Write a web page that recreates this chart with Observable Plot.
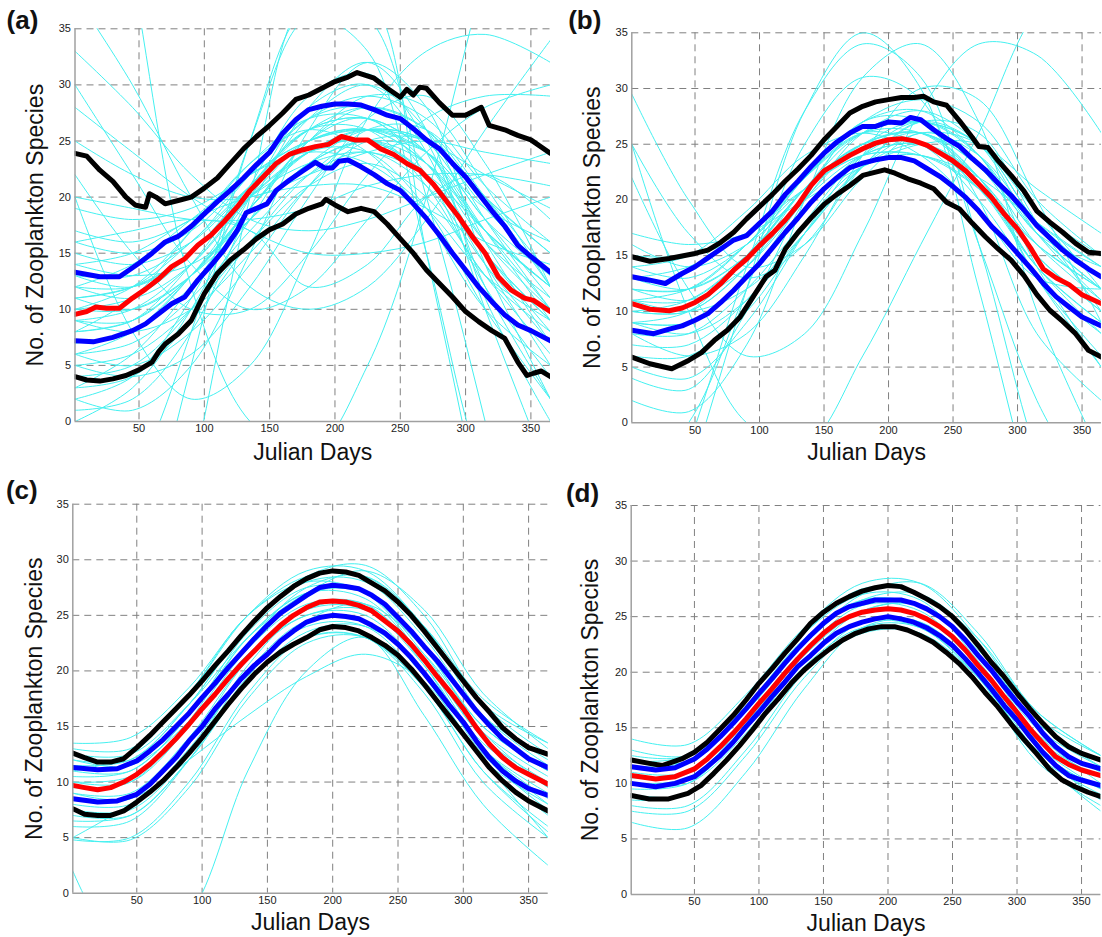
<!DOCTYPE html>
<html><head><meta charset="utf-8">
<script src="https://cdn.jsdelivr.net/npm/d3@7"></script>
<script src="https://cdn.jsdelivr.net/npm/@observablehq/plot@0.6"></script>
<style>
body{margin:0;background:#fff;}
#wrap{position:relative;width:1102px;height:937px;overflow:hidden;background:#fff;}
#wrap > div{position:absolute;}
</style></head><body><div id="wrap"></div>
<script>
const xTicks = [50,100,150,200,250,300,350];
const yTicks = [0,5,10,15,20,25,30,35];
const cyanDays = [1,45,90,135,180,225,270,315,365];
const xLabel = "Julian Days";
const yLabel = "No. of Zooplankton Species";

// ---- Panel (a) ----
const aCyan = [
 [9,10,14,20,24,25,22,15,9],[11,12,16,21,25,26,23,16,11],[7,8,12,18,23,25,23,17,10],
 [13,13,16,22,27,28,25,18,13],[6,7,11,17,22,24,21,14,7],[10,11,15,21,26,27,24,16,10],
 [8,9,14,21,26,26,21,13,8],[12,12,15,20,24,26,25,19,13],[5,6,10,16,21,23,20,13,6],
 [15,14,16,21,26,28,26,20,15],[9,9,13,19,25,28,26,18,10],[4,5,10,18,25,27,22,12,4],
 [16,15,17,22,27,29,27,21,16],[3,4,9,16,22,25,22,14,5],[11,10,13,19,25,29,28,21,12],
 [7,8,13,20,27,30,26,16,7],[14,13,14,18,23,26,25,20,15],[10,12,17,23,27,27,23,15,9],
 [19,18,19,22,25,26,25,22,19],[20,19,18,18,19,21,22,22,21],[2,4,11,21,29,31,25,12,2],
 [1,2,8,19,28,32,26,11,0],[33,28,22,18,17,18,20,22,24],[28,24,20,17,15,15,16,18,20],
 [16,17,18,17,12,14,20,22,18],[-40,-25,-5,20,38,38,15,-10,-40],[-30,-15,5,25,37,36,20,0,-25],
 [70,40,12,0,-3,5,20,40,60],[20,8,2,5,15,27,33,34.5,32],[22,15,10,10,15,22,27,29,29],
 [30,22,14,10,12,18,24,28,30],[38,30,20,12,10,12,18,26,34],[2,1,5,15,26,32,28,14,2],
 [0,3,10,20,28,30,24,10,-5],[6,5,8,14,21,26,26,20,12],[12,14,18,22,24,23,19,13,9],
 [8,11,17,23,26,24,18,10,5],[5,4,6,12,20,27,29,23,12],[17,16,18,22,25,26,24,19,16],
 [14,15,18,20,21,21,19,16,14],[9,8,10,15,21,25,25,20,13],[3,6,12,19,24,24,19,10,2],
 [-10,-5,8,25,36,33,15,-5,-15],[25,22,20,20,22,24,25,24,23],
 [8,9,13,19,24,26,24,17,9],[12,11,14,20,25,26,23,17,12],[10,10,13,18,23,25,24,18,11],
 [6,8,13,19,24,25,22,15,8],[13,12,15,21,26,27,24,17,12],[11,12,15,20,23,24,22,17,12]
];
const aBlackHi = [[1,23.9],[10,23.65],[20,22.4],[30,21.4],[40,20.0],[47,19.3],[55,19.1],[58,20.3],[63,20.0],[70,19.4],[80,19.7],[90,20.0],[100,20.8],[110,21.7],[120,23.0],[130,24.3],[140,25.4],[150,26.4],[160,27.5],[170,28.7],[180,29.1],[190,29.7],[200,30.3],[210,30.7],[217,31.1],[230,30.6],[240,29.7],[250,28.9],[255,29.6],[260,29.1],[265,29.8],[270,29.7],[280,28.4],[290,27.3],[300,27.3],[312,28.0],[318,26.4],[330,26.0],[340,25.5],[350,25.1],[365,23.9]];
const aBlueHi = [[1,13.3],[20,12.9],[35,12.9],[50,14.1],[60,15.0],[70,16.0],[80,16.5],[90,17.4],[100,18.5],[110,19.6],[120,20.6],[130,21.7],[140,22.9],[150,24.0],[160,25.7],[170,26.9],[180,27.8],[190,28.1],[200,28.3],[210,28.3],[220,28.2],[230,27.8],[240,27.3],[250,27.0],[260,26.1],[270,25.1],[280,24.3],[290,23.0],[300,21.8],[310,20.3],[320,18.8],[330,17.4],[340,15.7],[350,14.7],[365,13.3]];
const aRed = [[1,9.55],[10,9.8],[17,10.2],[25,10.1],[35,10.1],[45,11.0],[55,11.8],[65,12.7],[75,13.8],[85,14.5],[95,15.7],[105,16.6],[115,17.8],[125,19.1],[135,20.6],[145,21.8],[155,23.0],[165,23.8],[175,24.2],[185,24.5],[195,24.7],[205,25.4],[215,25.1],[225,25.1],[235,24.3],[245,23.8],[255,23.0],[265,22.4],[275,21.2],[285,19.7],[295,18.2],[305,16.5],[315,15.0],[325,12.9],[335,11.7],[345,11.0],[352,10.8],[365,9.8]];
const aBlueLo = [[1,7.2],[15,7.1],[30,7.5],[45,8.1],[55,8.7],[65,9.6],[75,10.5],[85,11.1],[95,12.6],[105,13.9],[115,15.3],[125,17.0],[132,18.6],[148,19.4],[155,20.6],[165,21.5],[175,22.3],[185,23.1],[192,22.6],[198,22.6],[203,23.2],[210,23.3],[220,22.7],[230,22.0],[240,21.2],[250,20.6],[260,19.4],[270,18.1],[280,16.6],[290,15.0],[300,13.5],[310,12.0],[320,10.7],[330,9.5],[340,8.6],[350,8.1],[365,7.2]];
const aBlackLo = [[1,4.0],[10,3.7],[20,3.6],[30,3.8],[40,4.1],[50,4.6],[60,5.3],[65,6.2],[70,6.9],[80,7.8],[90,9.0],[100,11.4],[110,13.2],[120,14.4],[130,15.3],[140,16.3],[150,17.1],[160,17.6],[170,18.5],[180,19.0],[190,19.4],[193,19.8],[200,19.3],[210,18.7],[220,19.0],[230,18.7],[240,17.6],[250,16.3],[260,15.0],[270,13.5],[280,12.3],[290,11.1],[300,9.8],[310,8.9],[320,8.1],[330,7.4],[340,5.3],[347,4.1],[352,4.3],[358,4.5],[365,4.0]];

// ---- Panel (b) ----
const bCyan = [
 [10,10,14,20,24,25,21,15,10],[12,12,16,22,26,26,22,16,12],[8,8,12,18,23,24,21,14,8],
 [14,13,16,22,27,28,24,17,14],[9,9,13,20,25,26,22,14,9],[11,11,15,21,25,26,23,17,12],
 [7,7,11,18,24,26,22,13,6],[13,12,15,21,26,27,25,18,13],[10,11,15,21,25,25,21,14,9],
 [15,15,17,22,26,27,25,19,15],[6,6,10,17,23,25,22,13,5],[12,11,14,20,26,28,25,17,11],
 [9,10,15,22,26,25,20,13,8],[11,12,16,21,24,24,21,16,12],[5,4,9,17,24,27,24,14,5],
 [16,14,16,21,27,29,27,20,15],[29.5,20,14,16,22,26,24,18,14],[25,17,13,16,23,27,25,18,13],
 [2,1,7,20,31,34,27,10,-3],[22,12,6,8,17,28,34,33,26],[-20,-5,12,28,35,30,12,-8,-25],
 [-15,-2,14,28,34,31,16,-3,-18],[25,10,0,-2,6,16,26,37,42],
 [8,6,8,15,24,30,29,20,9],[13,14,17,21,24,24,22,18,14],[17,16,17,20,23,25,25,21,17],
 [4,3,10,20,27,27,20,8,2],[9,8,11,17,23,27,26,18,10],[11,10,12,17,23,26,25,19,12],
 [-5,0,12,25,31,29,16,2,-8],[14,15,19,24,26,24,19,13,12],
 [10,10,14,21,25,26,23,16,11],[12,12,15,21,25,27,24,17,12],[9,9,13,19,24,25,22,15,10]
];
const bBlackHi = [[1,14.9],[15,14.5],[30,14.75],[50,15.2],[60,15.5],[70,16.2],[80,17.1],[90,18.3],[100,19.4],[110,20.5],[120,21.7],[130,22.8],[140,24.0],[150,25.4],[160,26.6],[170,27.8],[180,28.4],[190,28.8],[200,29.0],[210,29.2],[220,29.2],[227,29.3],[235,28.8],[245,28.5],[255,27.1],[265,25.6],[270,24.8],[277,24.7],[285,23.5],[295,22.2],[305,20.8],[315,19.0],[325,18.0],[335,17.1],[345,16.1],[355,15.3],[365,15.2]];
const bBlueHi = [[1,13.1],[15,12.8],[27,12.5],[40,13.4],[50,14.0],[60,14.8],[70,15.6],[80,16.4],[90,16.8],[100,17.9],[110,19.0],[120,20.5],[130,21.7],[140,23.0],[150,24.2],[160,25.2],[170,26.0],[180,26.6],[190,26.6],[200,27.0],[210,26.9],[217,27.4],[225,27.2],[235,26.3],[245,25.5],[255,24.8],[265,23.7],[275,22.7],[285,21.5],[295,20.4],[305,19.1],[315,17.7],[325,16.6],[335,15.5],[345,14.6],[355,13.8],[365,13.1]];
const bRed = [[1,10.7],[15,10.2],[30,10.05],[40,10.3],[50,10.8],[60,11.5],[70,12.5],[80,13.7],[90,14.7],[100,15.9],[110,17.0],[120,18.2],[130,19.6],[140,21.3],[150,22.6],[160,23.3],[170,24.0],[180,24.6],[190,25.1],[200,25.4],[210,25.5],[220,25.3],[230,24.9],[240,24.2],[250,23.5],[260,22.6],[270,21.4],[280,20.2],[290,18.7],[300,17.4],[310,15.7],[320,13.8],[330,13.0],[340,12.4],[350,11.5],[365,10.7]];
const bBlueLo = [[1,8.3],[18,8.0],[30,8.4],[40,8.7],[50,9.2],[60,9.8],[70,10.8],[80,11.9],[90,13.1],[100,14.3],[110,15.7],[120,17.1],[130,18.4],[140,19.8],[150,21.0],[160,22.0],[170,22.9],[180,23.3],[190,23.6],[200,23.8],[210,23.8],[220,23.5],[230,22.8],[240,22.1],[250,21.2],[260,20.2],[270,19.0],[280,17.6],[290,16.5],[300,15.2],[310,13.9],[320,12.5],[330,11.3],[340,10.4],[350,9.5],[365,8.7]];
const bBlackLo = [[1,5.9],[15,5.3],[32,4.85],[45,5.6],[55,6.3],[65,7.4],[75,8.3],[85,9.5],[95,11.3],[105,13.1],[112,13.7],[120,15.6],[130,17.1],[140,18.4],[150,19.6],[160,20.5],[170,21.3],[180,22.2],[190,22.5],[197,22.7],[205,22.4],[215,21.9],[225,21.5],[235,21.0],[245,19.8],[255,19.2],[265,17.9],[275,16.7],[285,15.6],[295,14.6],[305,13.2],[315,11.5],[325,10.1],[335,9.1],[345,8.0],[355,6.5],[365,5.9]];

// ---- Panel (c) ----
const cCyan = [
 [10,10,15,22,26,26,21,14,10],[11,11,16,23,27,27,22,15,11],[9,9,14,21,25,25,20,13,9],
 [12,12,17,24,28,28,23,16,12],[8,8,13,20,24,24,19,12,8],[13,13,18,25,29,29,24,17,13.5],
 [7,7,12,19,23.5,24,20,13,8],[10.5,11,16,23.5,27.5,27,21.5,14.5,10.5],[9.5,10,15.5,23,27,26.5,21,14,9.5],
 [11.5,12,17,24,28.5,29.5,25,17,12.5],[12.5,12.5,17,23,27,29,25.5,18,13],[6,6.5,12,20,24.5,24.5,19.5,12,7],
 [4.8,5,10,18,23,23,18,10,5],[5,4.8,9.5,17.5,22.5,23,18.5,11,6],[13.5,14,18.5,25,28.5,28.5,24,17.5,13.5],
 [8.5,8.5,13.5,21,25.5,25.5,20.5,13,8.5],[2,-6,-2,11,20,23,16,8,2.5],[5,8,12,16,19.5,21.5,19,12,5],
 [10,10.5,15,21.5,25,25.5,21.5,15,11],[7.5,7.5,12.5,20.5,25.5,26,20.5,12.5,7.5],[11,12.5,18,25,28,27,21,13.5,10],
 [9,8.5,12.5,19.5,24.5,26,22,14.5,9.5],[6.5,7,12,19,23,23,18.5,11,5.5],[12,11.5,15.5,22.5,27.5,28.5,24,16,11.5]
];
const cBlackHi = [[1,12.6],[10,12.2],[20,11.8],[30,11.8],[40,12.1],[50,13.1],[60,14.2],[70,15.4],[80,16.6],[90,17.8],[100,19.1],[110,20.5],[120,21.8],[130,23.2],[140,24.5],[150,25.7],[160,26.7],[170,27.6],[180,28.3],[190,28.8],[200,29.0],[210,28.9],[220,28.6],[230,27.9],[240,27.2],[250,26.2],[260,25.0],[270,23.6],[280,22.1],[290,20.6],[300,19.1],[310,17.6],[320,16.3],[330,14.9],[340,13.9],[350,13.1],[365,12.5]];
const cBlueHi = [[1,11.3],[20,11.1],[35,11.2],[50,11.9],[60,12.8],[70,13.8],[80,15.0],[90,16.2],[100,17.6],[110,18.9],[120,20.3],[130,21.6],[140,22.9],[150,24.1],[160,25.2],[170,26.0],[180,26.8],[190,27.5],[200,27.7],[210,27.6],[220,27.4],[230,26.8],[240,26.0],[250,24.8],[260,23.6],[270,22.2],[280,20.9],[290,19.4],[300,17.9],[310,16.4],[320,15.1],[330,13.9],[340,13.0],[350,12.1],[365,11.3]];
const cRed = [[1,9.7],[10,9.5],[20,9.3],[30,9.5],[40,10.0],[50,10.7],[60,11.6],[70,12.7],[80,13.9],[90,15.2],[100,16.6],[110,17.9],[120,19.3],[130,20.6],[140,21.8],[150,23.0],[160,24.1],[170,25.0],[180,25.7],[190,26.2],[200,26.3],[210,26.2],[220,25.9],[230,25.4],[240,24.5],[250,23.6],[260,22.4],[270,21.0],[280,19.5],[290,18.1],[300,16.6],[310,14.9],[320,13.4],[330,12.2],[340,11.3],[350,10.7],[365,9.8]];
const cBlueLo = [[1,8.5],[20,8.2],[35,8.3],[50,8.9],[60,9.8],[70,11.0],[80,12.2],[90,13.7],[100,15.0],[110,16.6],[120,17.9],[130,19.3],[140,20.5],[150,21.5],[160,22.7],[170,23.6],[180,24.4],[190,24.8],[200,25.0],[210,24.9],[220,24.7],[230,24.1],[240,23.4],[250,22.4],[260,21.2],[270,19.8],[280,18.3],[290,16.8],[300,15.4],[310,13.7],[320,12.2],[330,11.0],[340,10.1],[350,9.4],[365,8.8]];
const cBlackLo = [[1,7.6],[10,7.1],[20,7.0],[30,7.0],[40,7.4],[50,8.2],[60,9.1],[70,10.1],[80,11.3],[90,12.6],[100,14.0],[110,15.5],[120,17.0],[130,18.4],[140,19.7],[150,20.8],[160,21.7],[170,22.4],[180,23.0],[190,23.7],[200,24.0],[210,23.9],[220,23.6],[230,23.0],[240,22.3],[250,21.4],[260,20.2],[270,18.8],[280,17.3],[290,15.8],[300,14.3],[310,12.8],[320,11.3],[330,10.1],[340,9.1],[350,8.3],[365,7.4]];

// ---- Panel (d) ----
const dCyan = [
 [10.5,11,16,22,25.5,25,20.5,14,10.5],[11.5,12,17,23,26.5,26,21.5,15,11.5],[9.5,10,15,21,24.5,24,19.5,13,9.5],
 [12.5,12.5,17.5,23.5,27.5,27,22.5,15.5,12],[8.5,9,14,20.5,24,23.5,19,12.5,9],[14,13.5,18,24,28,28,23,16,12.5],
 [6.5,6,11,18.5,24,24.5,20,12.5,7.5],[8,8,13,20,24.5,24.5,20,13,8.5],[12,12.5,17.5,23.5,27,26.5,21,14.5,11],
 [10,10,14.5,21,25.5,26,21.5,14.5,10],[11,11,15.5,21.5,25.5,26,22,15.5,11.5],[13,12.5,16.5,22.5,27,28,23.5,16.5,12.5],
 [9,9,14,20,23.5,23.5,19.5,13,9.5],[7.5,7.5,12.5,19.5,24,24,19.5,12,8],[12,12,16.5,22.5,26.5,27,23,16.5,12.5],
 [10,10.5,15.5,22,26,25.5,20.5,13.5,9.5]
];
const dBlackHi = [[1,12.1],[15,11.8],[25,11.6],[40,12.2],[50,12.8],[60,13.7],[70,14.9],[80,16.1],[90,17.5],[100,19.0],[110,20.3],[120,21.7],[130,23.0],[140,24.4],[150,25.4],[160,26.2],[170,26.8],[180,27.3],[190,27.6],[200,27.8],[210,27.7],[220,27.2],[230,26.6],[240,25.9],[250,25.0],[260,23.8],[270,22.4],[280,20.9],[290,19.6],[300,18.1],[310,16.7],[320,15.4],[330,14.2],[340,13.3],[350,12.7],[365,12.1]];
const dBlueHi = [[1,11.5],[20,11.2],[35,11.4],[50,12.2],[60,13.1],[70,14.2],[80,15.4],[90,16.7],[100,18.1],[110,19.4],[120,20.8],[130,22.1],[140,23.3],[150,24.4],[160,25.3],[170,25.9],[180,26.2],[190,26.5],[200,26.5],[210,26.5],[220,26.2],[230,25.7],[240,25.0],[250,24.1],[260,22.9],[270,21.5],[280,20.2],[290,18.7],[300,17.3],[310,16.0],[320,14.5],[330,13.3],[340,12.4],[350,11.8],[365,11.3]];
const dRed = [[1,10.7],[20,10.4],[35,10.6],[50,11.3],[60,12.2],[70,13.3],[80,14.5],[90,15.8],[100,17.2],[110,18.5],[120,19.9],[130,21.2],[140,22.4],[150,23.5],[160,24.4],[170,25.0],[180,25.4],[190,25.6],[200,25.7],[210,25.6],[220,25.3],[230,24.8],[240,24.1],[250,23.2],[260,22.0],[270,20.6],[280,19.3],[290,17.8],[300,16.4],[310,14.9],[320,13.6],[330,12.4],[340,11.7],[350,11.2],[365,10.7]];
const dBlueLo = [[1,10.0],[20,9.7],[35,10.0],[50,10.6],[60,11.5],[70,12.5],[80,13.7],[90,15.1],[100,16.4],[110,17.8],[120,19.1],[130,20.5],[140,21.5],[150,22.6],[160,23.5],[170,24.1],[180,24.5],[190,24.8],[200,25.0],[210,24.8],[220,24.5],[230,24.0],[240,23.3],[250,22.4],[260,21.2],[270,19.9],[280,18.5],[290,17.0],[300,15.7],[310,14.2],[320,12.8],[330,11.6],[340,10.7],[350,10.3],[365,9.8]];
const dBlackLo = [[1,8.9],[15,8.6],[30,8.6],[45,9.1],[55,9.8],[65,10.9],[75,12.1],[85,13.4],[95,14.8],[105,16.3],[115,17.6],[125,19.0],[135,20.2],[145,21.2],[155,22.1],[165,22.9],[175,23.5],[185,23.9],[195,24.1],[205,24.1],[215,23.8],[225,23.3],[235,22.7],[245,21.8],[255,20.8],[265,19.6],[275,18.2],[285,16.9],[295,15.4],[305,14.0],[315,12.7],[325,11.3],[335,10.3],[345,9.7],[355,9.2],[365,8.8]];

const panels = [
 {tag:"(a)", left:0, top:0, w:551, h:468, ml:74.5, mr:1, mt:28.3, mb:47, yl:-39.5, xl:31, tdx:-52.5, tdy:-8.5,
  cyan:aCyan, lines:[aBlackHi,aBlackLo,aBlueHi,aBlueLo,aRed]},
 {tag:"(b)", left:551, top:0, w:551, h:468, ml:80.3, mr:1.1, mt:32.3, mb:45.7, yl:-39, xl:30, tdx:-47, tdy:-12,
  cyan:bCyan, lines:[bBlackHi,bBlackLo,bBlueHi,bBlueLo,bRed]},
 {tag:"(c)", left:0, top:468, w:551, h:469, ml:72.3, mr:3.3, mt:35.7, mb:44.3, yl:-38, xl:29.5, tdx:-51, tdy:-13.7,
  cyan:cCyan, lines:[cBlackHi,cBlackLo,cBlueHi,cBlueLo,cRed]},
 {tag:"(d)", left:551, top:468, w:551, h:469, ml:79.7, mr:1.6, mt:37, mb:43, yl:-41, xl:29, tdx:-48.7, tdy:-12,
  cyan:dCyan, lines:[dBlackHi,dBlackLo,dBlueHi,dBlueLo,dRed]}
];
const lineColors = ["#000000","#000000","#0000ff","#0000ff","#ff0000"];

const wrap = document.getElementById("wrap");
for (const p of panels) {
  const cyanRows = [];
  p.cyan.forEach((vals, k) => vals.forEach((v, i) => cyanRows.push({id: k, day: cyanDays[i], v})));
  const marks = [
    Plot.gridX(xTicks, {stroke:"#808080", strokeOpacity:1, strokeWidth:1, strokeDasharray:"7,5"}),
    Plot.gridY(yTicks.filter(d => d > 0), {stroke:"#808080", strokeOpacity:1, strokeWidth:1, strokeDasharray:"7,5"}),
    Plot.line(cyanRows, {x:"day", y:"v", z:"id", stroke:"#45f0f0", strokeWidth:1, curve:"catmull-rom", clip:true}),
    ...p.lines.map((ln, i) => Plot.line(ln, {x: d => d[0], y: d => d[1], stroke: lineColors[i], strokeWidth: 5, clip: true})),
    Plot.ruleX([1], {stroke:"#a0a0a0", strokeWidth:1.5}),
    Plot.ruleY([0], {stroke:"#a0a0a0", strokeWidth:1.5}),
    Plot.axisX({ticks: xTicks, tickSize: 0, tickPadding: 3, label: null, fontSize: 11}),
    Plot.axisY({ticks: yTicks, tickSize: 0, tickPadding: 4, label: null, fontSize: 11}),
    Plot.text([xLabel], {frameAnchor:"bottom", dy: p.xl, textAnchor:"middle", lineAnchor:"middle", fontSize: 23, fill:"#111"}),
    Plot.text([yLabel], {frameAnchor:"left", dx: p.yl, rotate: -90, textAnchor:"middle", lineAnchor:"middle", fontSize: 23, fill:"#111"}),
    Plot.text([p.tag], {frameAnchor:"top-left", dx: p.tdx, dy: p.tdy, textAnchor:"middle", lineAnchor:"middle", fontSize: 26, fontWeight:"bold", fill:"#111"})
  ];
  const chart = Plot.plot({
    width: p.w, height: p.h,
    marginLeft: p.ml, marginRight: p.mr, marginTop: p.mt, marginBottom: p.mb,
    x: {domain: [1, 365]},
    y: {domain: [0, 35]},
    style: {fontFamily: "'Liberation Sans', Arial, sans-serif", color: "#222", background: "transparent", overflow: "visible"},
    marks
  });
  const div = document.createElement("div");
  div.style.left = p.left + "px";
  div.style.top = p.top + "px";
  div.appendChild(chart);
  wrap.appendChild(div);
}
</script></body></html>
